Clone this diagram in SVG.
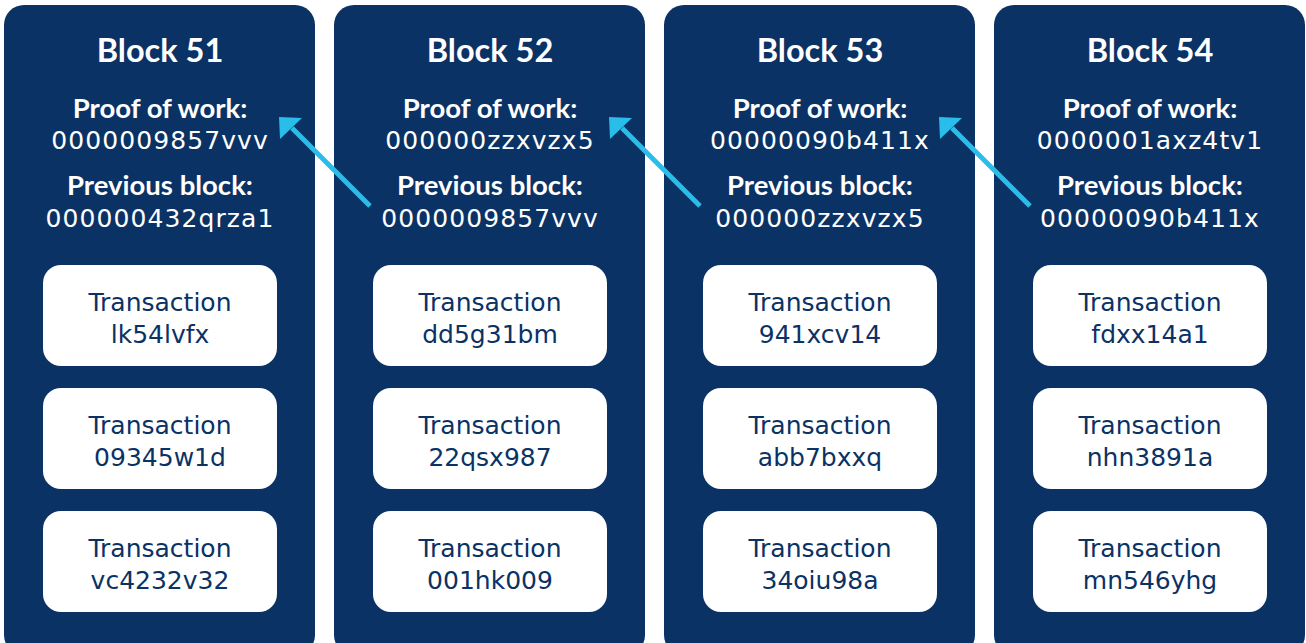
<svg xmlns="http://www.w3.org/2000/svg" width="1306" height="643" viewBox="0 0 1306 643">
<defs>
<style>
.blk{fill:#0b3264}
.tx{fill:#ffffff}
.t{text-anchor:middle}
.h{font-family:"Lato","Liberation Sans",sans-serif;font-size:32.5px;font-weight:700;fill:#ffffff}
.l{font-family:"Lato","Liberation Sans",sans-serif;font-size:27.5px;font-weight:700;fill:#ffffff}
.v{font-family:"DejaVu Sans","Liberation Sans",sans-serif;font-size:25px;font-weight:400;fill:#ffffff;letter-spacing:1.1px}
.x{font-family:"DejaVu Sans","Liberation Sans",sans-serif;font-size:25px;font-weight:400;fill:#0b3264}
.arr{stroke:#29bde9;stroke-width:5;fill:none}
.ah{fill:#29bde9}
</style>
</defs>
<rect width="1306" height="643" fill="#ffffff"/>

<g id="block51">
<rect class="blk" x="4" y="5" width="311" height="650" rx="20"/>
<text class="t h" x="160" y="62">Block 51</text>
<text class="t l" x="160" y="118">Proof of work:</text>
<text class="t v" x="160" y="149">0000009857vvv</text>
<text class="t l" x="160" y="195">Previous block:</text>
<text class="t v" x="160" y="227">000000432qrza1</text>
<g id="tx51a"><rect class="tx" x="43" y="265" width="234" height="101" rx="18"/><text class="t x" x="160" y="311">Transaction</text><text class="t x" x="160" y="343">lk54lvfx</text></g>
<g id="tx51b"><rect class="tx" x="43" y="388" width="234" height="101" rx="18"/><text class="t x" x="160" y="434">Transaction</text><text class="t x" x="160" y="466">09345w1d</text></g>
<g id="tx51c"><rect class="tx" x="43" y="511" width="234" height="101" rx="18"/><text class="t x" x="160" y="557">Transaction</text><text class="t x" x="160" y="589">vc4232v32</text></g>
</g>

<g id="block52">
<rect class="blk" x="334" y="5" width="311" height="650" rx="20"/>
<text class="t h" x="490" y="62">Block 52</text>
<text class="t l" x="490" y="118">Proof of work:</text>
<text class="t v" x="490" y="149">000000zzxvzx5</text>
<text class="t l" x="490" y="195">Previous block:</text>
<text class="t v" x="490" y="227">0000009857vvv</text>
<g id="tx52a"><rect class="tx" x="373" y="265" width="234" height="101" rx="18"/><text class="t x" x="490" y="311">Transaction</text><text class="t x" x="490" y="343">dd5g31bm</text></g>
<g id="tx52b"><rect class="tx" x="373" y="388" width="234" height="101" rx="18"/><text class="t x" x="490" y="434">Transaction</text><text class="t x" x="490" y="466">22qsx987</text></g>
<g id="tx52c"><rect class="tx" x="373" y="511" width="234" height="101" rx="18"/><text class="t x" x="490" y="557">Transaction</text><text class="t x" x="490" y="589">001hk009</text></g>
</g>

<g id="block53">
<rect class="blk" x="664" y="5" width="311" height="650" rx="20"/>
<text class="t h" x="820" y="62">Block 53</text>
<text class="t l" x="820" y="118">Proof of work:</text>
<text class="t v" x="820" y="149">00000090b411x</text>
<text class="t l" x="820" y="195">Previous block:</text>
<text class="t v" x="820" y="227">000000zzxvzx5</text>
<g id="tx53a"><rect class="tx" x="703" y="265" width="234" height="101" rx="18"/><text class="t x" x="820" y="311">Transaction</text><text class="t x" x="820" y="343">941xcv14</text></g>
<g id="tx53b"><rect class="tx" x="703" y="388" width="234" height="101" rx="18"/><text class="t x" x="820" y="434">Transaction</text><text class="t x" x="820" y="466">abb7bxxq</text></g>
<g id="tx53c"><rect class="tx" x="703" y="511" width="234" height="101" rx="18"/><text class="t x" x="820" y="557">Transaction</text><text class="t x" x="820" y="589">34oiu98a</text></g>
</g>

<g id="block54">
<rect class="blk" x="994" y="5" width="311" height="650" rx="20"/>
<text class="t h" x="1150" y="62">Block 54</text>
<text class="t l" x="1150" y="118">Proof of work:</text>
<text class="t v" x="1150" y="149">0000001axz4tv1</text>
<text class="t l" x="1150" y="195">Previous block:</text>
<text class="t v" x="1150" y="227">00000090b411x</text>
<g id="tx54a"><rect class="tx" x="1033" y="265" width="234" height="101" rx="18"/><text class="t x" x="1150" y="311">Transaction</text><text class="t x" x="1150" y="343">fdxx14a1</text></g>
<g id="tx54b"><rect class="tx" x="1033" y="388" width="234" height="101" rx="18"/><text class="t x" x="1150" y="434">Transaction</text><text class="t x" x="1150" y="466">nhn3891a</text></g>
<g id="tx54c"><rect class="tx" x="1033" y="511" width="234" height="101" rx="18"/><text class="t x" x="1150" y="557">Transaction</text><text class="t x" x="1150" y="589">mn546yhg</text></g>
</g>

<g id="connectors">
<line class="arr" x1="370" y1="206" x2="292" y2="128"/>
<polygon class="ah" points="279,117 302,118 280,139"/>
<line class="arr" x1="700" y1="206" x2="622" y2="128"/>
<polygon class="ah" points="609,117 632,118 610,139"/>
<line class="arr" x1="1030" y1="206" x2="952" y2="128"/>
<polygon class="ah" points="939,117 962,118 940,139"/>
</g>
</svg>
